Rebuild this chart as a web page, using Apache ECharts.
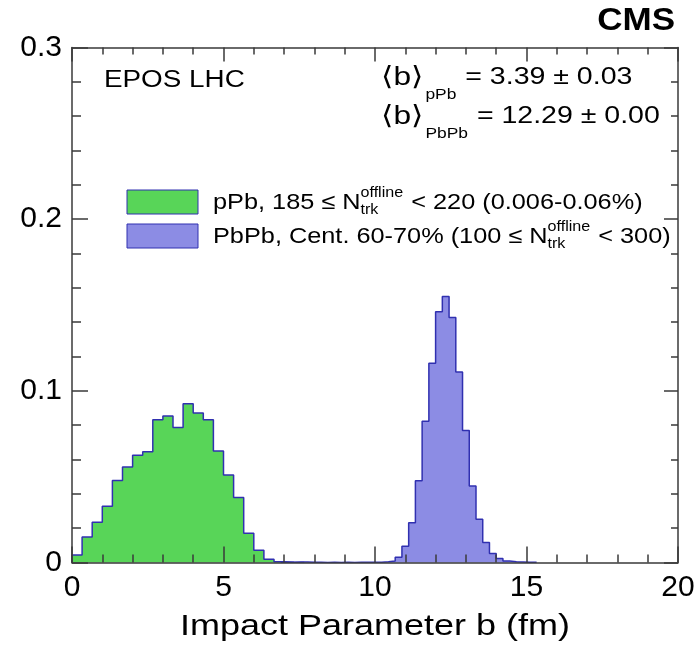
<!DOCTYPE html>
<html><head><meta charset="utf-8">
<script src="https://cdn.jsdelivr.net/npm/echarts@6/dist/echarts.min.js"></script>
<style>html,body{margin:0;padding:0;background:#fff}#c{width:698px;height:649px}</style>
</head><body><div id="c"></div>
<script>
// ---------------- data ----------------
const xTitle = 'Impact Parameter b (fm)';
const xMin = 0, xMax = 20, xStep = 5;
const yMin = 0, yMax = 0.3, yStep = 0.1;

const pPbBinWidth = 1 / 3;
const pPbFirstBin = 0;
const pPbValues = [0.0043, 0.0149, 0.0234, 0.0327, 0.0478, 0.0556, 0.0625, 0.0645, 0.0832, 0.0854,
                   0.0786, 0.0925, 0.0871, 0.0832, 0.0650, 0.0509, 0.0378, 0.0170, 0.0072, 0.0019,
                   0.0004, 0.0001, 0.0000];

const PbPbBinWidth = 2 / 9;
const PbPbFirstBin = 31;
const PbPbValues = [0.0001, 0.0002, 0.0003, 0.0003, 0.0001, 0.0001, 0.0000, 0.0001, 0.0000, 0.0001,
                    0.0000, 0.0001, 0.0001, 0.0001, 0.0002, 0.0004, 0.0009, 0.0031, 0.0095, 0.0232,
                    0.0476, 0.0823, 0.1160, 0.1460, 0.1550, 0.1427, 0.1110, 0.0769, 0.0445, 0.0252,
                    0.0116, 0.0052, 0.0023, 0.0009, 0.0004, 0.0003, 0.0002, 0.0001];

const legendLabels = ['pPb', 'PbPb'];

// ---------------- style ----------------
const FONT = '"Liberation Sans", Arial, Helvetica, "DejaVu Sans", sans-serif';
const GREEN = '#58d558';
const BLUE = '#8c8ce4';
const EDGE = '#3030b0';
const AX = '#3a3a3a';

const ctx = document.createElement('canvas').getContext('2d');
function tw(t, size, bold, sx) {
  ctx.font = (bold ? 'bold ' : '') + size + 'px ' + FONT;
  return ctx.measureText(t).width * sx;
}
function txt(t, x, y, size, opt) {
  opt = opt || {};
  return {
    type: 'text', x: x, y: y, scaleX: opt.sx || 1.16, z: 100,
    style: {
      text: t, fontSize: size, fontFamily: FONT, fontWeight: opt.bold ? 'bold' : 'normal',
      fill: '#000', align: opt.align || 'left', textAlign: opt.align || 'left',
      verticalAlign: 'middle', textVerticalAlign: 'middle'
    }
  };
}
function runLine(x0, yc, segs, sx, out) {
  let x = x0;
  segs.forEach(s => {
    const k = s.sx || sx;
    if (s.stack) {
      out.push(txt(s.sup, x, yc + s.supDy, s.size, {sx: k}));
      out.push(txt(s.sub, x, yc + s.subDy, s.size, {sx: k}));
      x += Math.max(tw(s.sup, s.size, false, k), tw(s.sub, s.size, false, k)) + 1;
    } else {
      out.push(txt(s.t, x, yc + (s.dy || 0), s.size, {sx: k}));
      x += tw(s.t, s.size, false, k) + (s.gap || 0);
    }
  });
}

function histPoints(first, width, vals) {
  const pts = [[first * width, 0]];
  vals.forEach((v, i) => pts.push([(first + i) * width, v]));
  pts.push([(first + vals.length) * width, 0]);
  return pts;
}

const graphics = [];
graphics.push(txt('CMS', 675, 21, 31, {bold: true, align: 'right', sx: 1.13}));
graphics.push(txt('EPOS LHC', 104, 81, 23, {sx: 1.21}));
graphics.push(txt(xTitle, 375, 627, 30, {align: 'center', sx: 1.2}));

runLine(381, 78, [
  {t: '\u27E8b\u27E9', size: 26, sx: 1.22, gap: 2},
  {t: 'pPb', size: 15, dy: 17, sx: 1.16, gap: 1},
  {t: ' = 3.39 \u00B1 0.03', size: 23, sx: 1.24}
], 1.2, graphics);
runLine(381, 117, [
  {t: '\u27E8b\u27E9', size: 26, sx: 1.22, gap: 2},
  {t: 'PbPb', size: 15, dy: 17, sx: 1.16, gap: 1},
  {t: ' = 12.29 \u00B1 0.00', size: 23, sx: 1.24}
], 1.2, graphics);

// legend
graphics.push({type: 'rect', shape: {x: 127, y: 190, width: 71, height: 24}, z: 100,
  style: {fill: GREEN, stroke: EDGE, lineWidth: 1}});
graphics.push({type: 'rect', shape: {x: 127, y: 224, width: 71, height: 24}, z: 100,
  style: {fill: BLUE, stroke: EDGE, lineWidth: 1}});
runLine(213, 203, [
  {t: legendLabels[0] + ', 185 \u2264 N', size: 22},
  {stack: true, sup: 'offline', sub: 'trk', size: 14, supDy: -10, subDy: 7},
  {t: ' < 220 (0.006-0.06%)', size: 22}
], 1.15, graphics);
runLine(213, 237, [
  {t: legendLabels[1] + ', Cent. 60-70% (100 \u2264 N', size: 22},
  {stack: true, sup: 'offline', sub: 'trk', size: 14, supDy: -10, subDy: 7},
  {t: ' < 300)', size: 22}
], 1.15, graphics);

function axisCommon(pos, show, majorLen, minorLen, min, max, interval) {
  return {
    type: 'value', position: pos, min: min, max: max, interval: interval, z: 10,
    axisLine: {show: true, onZero: false, lineStyle: {color: AX, width: 1.5}},
    axisTick: {show: true, inside: true, length: majorLen, lineStyle: {color: AX, width: 1.5}},
    minorTick: {show: true, splitNumber: 5, length: minorLen, lineStyle: {color: AX, width: 1.5}},
    splitLine: {show: false}, minorSplitLine: {show: false},
    axisLabel: {show: show, fontSize: 30, fontFamily: FONT, color: '#000', margin: 10}
  };
}

const chart = echarts.init(document.getElementById('c'), null, {renderer: 'canvas'});
chart.setOption({
  animation: false,
  backgroundColor: '#fff',
  grid: {left: 72, right: 20, top: 47.5, bottom: 86.5, containLabel: false},
  xAxis: [axisCommon('bottom', true, 16, 8, xMin, xMax, xStep),
          axisCommon('top', false, 14, 7, xMin, xMax, xStep)],
  yAxis: [axisCommon('left', true, 16, 9, yMin, yMax, yStep),
          axisCommon('right', false, 14, 7, yMin, yMax, yStep)],
  series: [
    {name: legendLabels[0], type: 'line', step: 'end', xAxisIndex: 0, yAxisIndex: 0,
     data: histPoints(pPbFirstBin, pPbBinWidth, pPbValues), showSymbol: false, symbol: 'none',
     lineStyle: {color: EDGE, width: 1.5}, areaStyle: {color: GREEN, opacity: 1}, z: 2},
    {name: legendLabels[1], type: 'line', step: 'end', xAxisIndex: 0, yAxisIndex: 0,
     data: histPoints(PbPbFirstBin, PbPbBinWidth, PbPbValues), showSymbol: false, symbol: 'none',
     lineStyle: {color: EDGE, width: 1.5}, areaStyle: {color: BLUE, opacity: 1}, z: 3}
  ],
  graphic: graphics
});
</script>
</body></html>
